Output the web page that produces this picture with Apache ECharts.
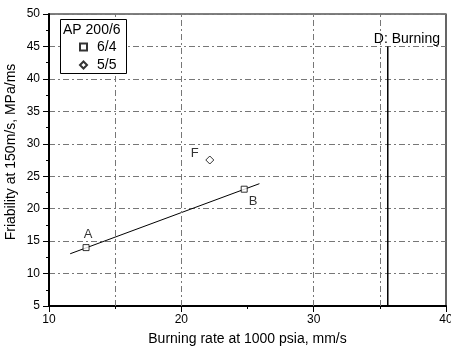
<!DOCTYPE html>
<html><head><meta charset="utf-8">
<script src="https://cdn.jsdelivr.net/npm/echarts@6/dist/echarts.min.js"></script>
<style>html,body{margin:0;padding:0;background:#fff}#c{width:451px;height:353px}</style>
</head><body><div id="c"></div>
<script>
const xTicks = [10, 20, 30, 40];
const yTicks = [5, 10, 15, 20, 25, 30, 35, 40, 45, 50];
const series64 = [[12.8, 14.0], [24.75, 23.0]];
const series55 = [[22.15, 27.5]];
const fitLine = [[11.6, 13.05], [25.9, 23.85]];
const pointLabels = [
  {name: 'A', x: 12.8, y: 14.0},
  {name: 'B', x: 24.75, y: 23.0},
  {name: 'F', x: 22.15, y: 27.5}
];
const vGridLines = [15, 20, 30, 35];
const burningLine = [[35.6, 5], [35.6, 45]];
const burningLabel = 'D: Burning';
const legendTitle = 'AP 200/6';

const font = 'Liberation Sans, Arial, sans-serif';
const chart = echarts.init(document.getElementById('c'));
const labelOffsets = {A: [2, -13], B: [9, 12], F: [-15, -7]};
chart.setOption({
  animation: false,
  grid: {left: 49, right: 5, top: 14, bottom: 47, show: true, borderColor: '#000', borderWidth: 1.2,
    containLabel: false, outerBoundsMode: 'none'},
  xAxis: {
    type: 'value', min: xTicks[0], max: xTicks[xTicks.length - 1], interval: 10,
    name: 'Burning rate at 1000 psia, mm/s', nameLocation: 'middle', nameGap: 26,
    nameTextStyle: {fontFamily: font, fontSize: 14, color: '#000'},
    axisLine: {lineStyle: {color: '#000', width: 2}},
    axisTick: {inside: false, length: 6, lineStyle: {color: '#000'}},
    minorTick: {show: true, splitNumber: 2, length: 3, lineStyle: {color: '#000'}},
    axisLabel: {fontFamily: font, fontSize: 12, color: '#000', margin: 8},
    splitLine: {show: false}
  },
  yAxis: {
    type: 'value', min: yTicks[0], max: yTicks[yTicks.length - 1], interval: 5,
    name: 'Friability at 150m/s, MPa/ms', nameLocation: 'middle', nameGap: 31, nameMoveOverlap: false,
    nameTextStyle: {fontFamily: font, fontSize: 14, color: '#000', padding: [0, 0, 0, 16]},
    axisLine: {lineStyle: {color: '#000', width: 2}},
    axisTick: {inside: false, length: 6, lineStyle: {color: '#000'}},
    minorTick: {show: true, splitNumber: 2, length: 3, lineStyle: {color: '#000'}},
    axisLabel: {fontFamily: font, fontSize: 12, color: '#000', margin: 9},
    splitLine: {show: true, lineStyle: {color: '#777', type: [6, 3, 2, 3], width: 1}}
  },
  legend: {
    orient: 'vertical', left: 79, top: 40, padding: 0, itemGap: 4, itemWidth: 7, itemHeight: 7, z: 60,
    textStyle: {fontFamily: font, fontSize: 14, color: '#000', lineHeight: 14, padding: [0, 0, 0, 5]},
    data: ['6/4', '5/5']
  },
  graphic: [
    {type: 'rect', left: 60, top: 19, z: 50, shape: {width: 66, height: 54},
      style: {fill: '#fff', stroke: '#000', lineWidth: 1}},
    {type: 'text', left: 63, top: 23, z: 51, style: {text: legendTitle, font: '14px ' + font, fill: '#000'}},
    {type: 'text', right: 11, top: 32, z: 51, style: {text: burningLabel, font: '14px ' + font, fill: '#000'}}
  ],
  series: [
    {
      name: 'grid', type: 'line', data: [], silent: true,
      markLine: {
        symbol: 'none', silent: true, label: {show: false},
        lineStyle: {color: '#777', type: [6, 3, 2, 3], width: 1},
        data: vGridLines.map(v => ({xAxis: v}))
      }
    },
    {
      name: 'burning', type: 'line', data: burningLine, symbol: 'none',
      lineStyle: {color: '#000', width: 1.5}, silent: true
    },
    {
      name: 'fit', type: 'line', data: fitLine, symbol: 'none',
      lineStyle: {color: '#000', width: 1}, silent: true
    },
    {
      name: '6/4', type: 'scatter', data: series64, symbol: 'rect', symbolSize: 6,
      itemStyle: {color: '#fff', borderColor: '#000', borderWidth: 1}, z: 5
    },
    {
      name: '5/5', type: 'scatter', data: series55, symbol: 'diamond', symbolSize: 8,
      itemStyle: {color: '#fff', borderColor: '#000', borderWidth: 1}, z: 5
    },
    {
      name: 'labels', type: 'scatter', symbolSize: 0, silent: true,
      data: pointLabels.map(p => ({value: [p.x, p.y], name: p.name,
        label: {show: true, formatter: p.name, offset: labelOffsets[p.name]}})),
      label: {show: true, position: 'inside', fontFamily: font, fontSize: 13, color: '#000'}
    }
  ]
});
</script></body></html>
